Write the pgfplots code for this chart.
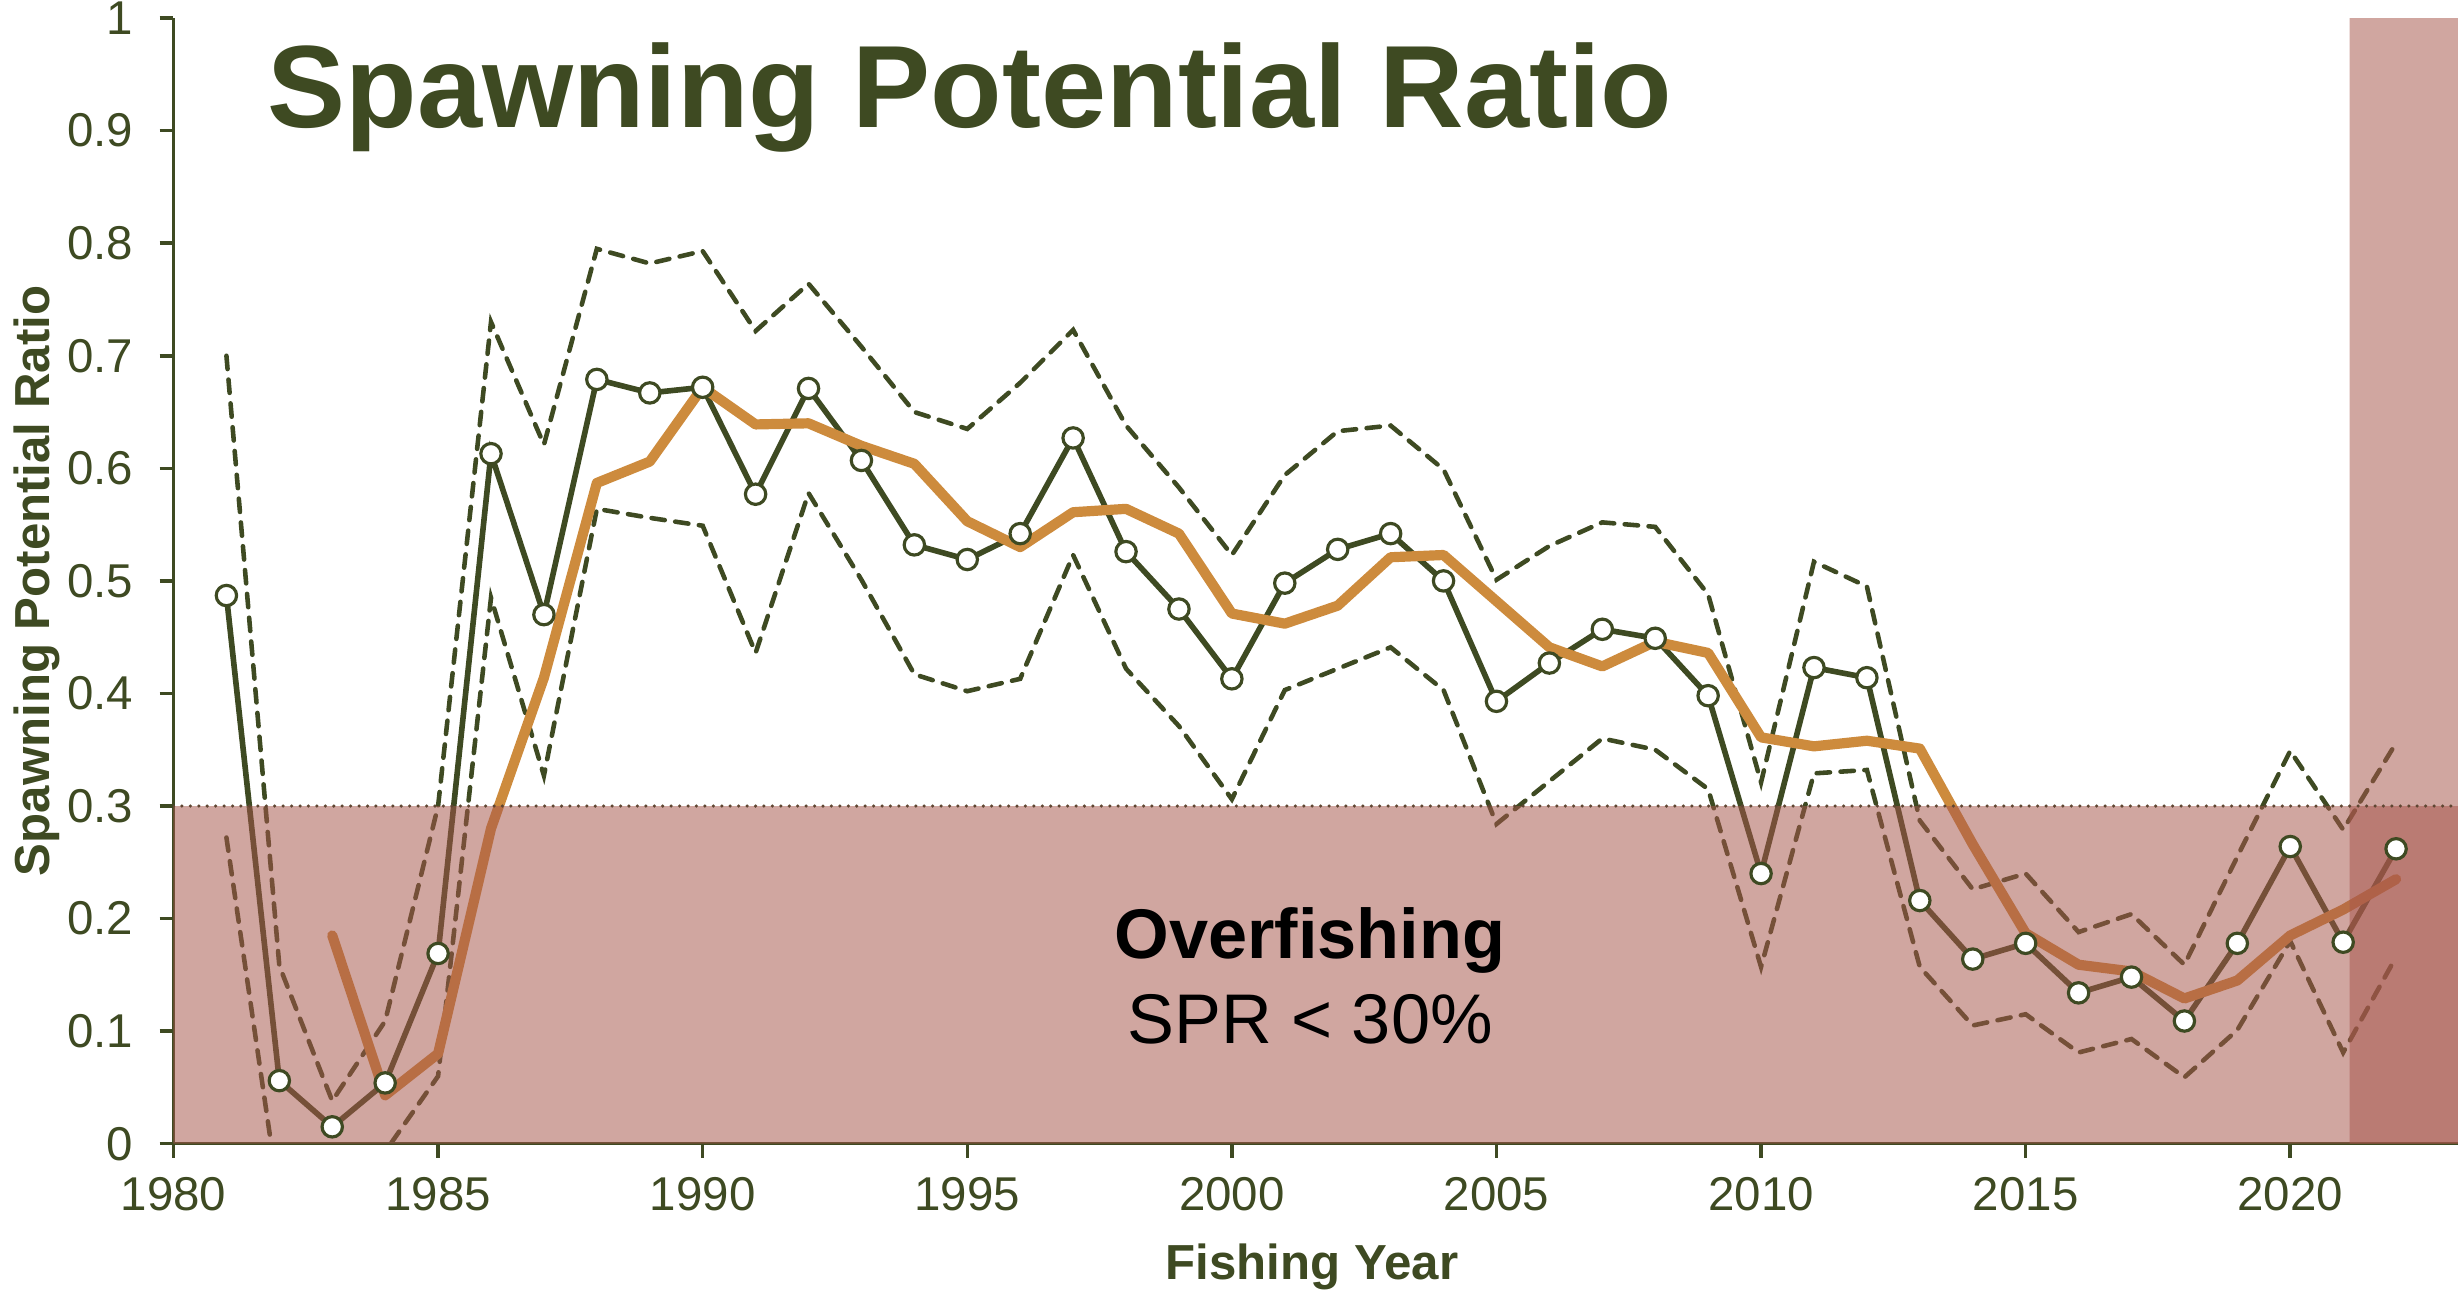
\documentclass[border=0pt]{standalone}
\usepackage{fontspec}
\setmainfont{Liberation Sans}
\usepackage{pgfplots}
\pgfplotsset{compat=1.18}
\definecolor{spolive}{RGB}{62,74,34}
\definecolor{sporange}{RGB}{205,139,61}
\definecolor{spband}{RGB}{167,86,76}
\definecolor{spdot}{RGB}{95,70,50}
\begin{document}
\begin{tikzpicture}
\useasboundingbox (0,0) rectangle (24.58,12.96);
\begin{axis}[
  at={(1.735cm,1.523cm)}, anchor=south west,
  width=22.845cm, height=11.256cm, scale only axis,
  xmin=1980, xmax=2023.17, ymin=0, ymax=1,
  axis x line*=bottom, axis y line*=left,
  axis line style={line width=1pt, spolive},
  tick align=outside, major tick length=0.14cm,
  tick style={line width=1pt, spolive},
  xtick={1980,1985,1990,1995,2000,2005,2010,2015,2020},
  xticklabels={1980,1985,1990,1995,2000,2005,2010,2015,2020},
  ytick={0,0.1,0.2,0.3,0.4,0.5,0.6,0.7,0.8,0.9,1},
  yticklabels={0,0.1,0.2,0.3,0.4,0.5,0.6,0.7,0.8,0.9,1},
  ticklabel style={font=\fontsize{13.5}{16}\selectfont, text=spolive, inner sep=0pt},
  xticklabel style={anchor=base, yshift=-0.53cm},
  yticklabel style={anchor=east, xshift=-0.255cm},
]
% upper and lower bounds
\addplot[spolive, line width=1.3pt, dash pattern=on 3.8pt off 3pt, line cap=round] coordinates {
(1981,0.700) (1982,0.158) (1983,0.038) (1984,0.109) (1985,0.300) (1986,0.730) (1987,0.621) (1988,0.795) (1989,0.782) (1990,0.793)
(1991,0.722) (1992,0.764) (1993,0.708) (1994,0.650) (1995,0.635) (1996,0.676) (1997,0.723) (1998,0.638) (1999,0.583) (2000,0.523)
(2001,0.594) (2002,0.633) (2003,0.638) (2004,0.599) (2005,0.501) (2006,0.531) (2007,0.552) (2008,0.548) (2009,0.488) (2010,0.321)
(2011,0.517) (2012,0.495) (2013,0.287) (2014,0.226) (2015,0.240) (2016,0.188) (2017,0.204) (2018,0.159) (2019,0.255) (2020,0.349)
(2021,0.279) (2022,0.356)};
\addplot[spolive, line width=1.3pt, dash pattern=on 3.8pt off 3pt, line cap=round] coordinates {
(1981,0.272) (1982,-0.050) (1983,-0.050) (1984,-0.007) (1985,0.060) (1986,0.485) (1987,0.327) (1988,0.564) (1989,0.556) (1990,0.549)
(1991,0.436) (1992,0.578) (1993,0.501) (1994,0.417) (1995,0.402) (1996,0.413) (1997,0.523) (1998,0.422) (1999,0.371) (2000,0.306)
(2001,0.403) (2002,0.422) (2003,0.441) (2004,0.403) (2005,0.284) (2006,0.322) (2007,0.360) (2008,0.350) (2009,0.315) (2010,0.157)
(2011,0.329) (2012,0.332) (2013,0.157) (2014,0.105) (2015,0.115) (2016,0.081) (2017,0.093) (2018,0.059) (2019,0.101) (2020,0.180)
(2021,0.081) (2022,0.166)};
% annual SPR
\addplot[spolive, line width=1.6pt, mark=*, mark size=2.9pt, mark options={fill=white, draw=spolive, line width=0.9pt}] coordinates {
(1981,0.487) (1982,0.056) (1983,0.015) (1984,0.054) (1985,0.169) (1986,0.613) (1987,0.470) (1988,0.679) (1989,0.667) (1990,0.672)
(1991,0.577) (1992,0.671) (1993,0.607) (1994,0.532) (1995,0.519) (1996,0.542) (1997,0.627) (1998,0.526) (1999,0.475) (2000,0.413)
(2001,0.498) (2002,0.528) (2003,0.542) (2004,0.500) (2005,0.393) (2006,0.427) (2007,0.457) (2008,0.449) (2009,0.398) (2010,0.240)
(2011,0.423) (2012,0.414) (2013,0.216) (2014,0.164) (2015,0.178) (2016,0.134) (2017,0.148) (2018,0.109) (2019,0.178) (2020,0.264)
(2021,0.179) (2022,0.262)};
% running average
\addplot[sporange, line width=2.9pt, line cap=round, line join=round] coordinates {
(1983,0.185) (1984,0.043) (1985,0.080) (1986,0.280) (1987,0.414) (1988,0.587) (1989,0.606) (1990,0.672)
(1991,0.639) (1992,0.640) (1993,0.620) (1994,0.604) (1995,0.553) (1996,0.530) (1997,0.561) (1998,0.564) (1999,0.542) (2000,0.471)
(2001,0.462) (2002,0.478) (2003,0.521) (2004,0.523) (2005,0.482) (2006,0.441) (2007,0.424) (2008,0.446) (2009,0.436) (2010,0.361)
(2011,0.353) (2012,0.358) (2013,0.351) (2014,0.266) (2015,0.187) (2016,0.159) (2017,0.153) (2018,0.129) (2019,0.145) (2020,0.185)
(2021,0.208) (2022,0.235)};
% shaded regions
\addplot[draw=none, fill=spband, fill opacity=0.53] coordinates {(1980,0) (1980,0.3) (2023.17,0.3) (2023.17,0)} \closedcycle;
\addplot[draw=none, fill=spband, fill opacity=0.53] coordinates {(2021.12,0) (2021.12,1) (2023.17,1) (2023.17,0)} \closedcycle;
\addplot[spdot, line width=1pt, dash pattern=on 0pt off 2.4pt, line cap=round] coordinates {(1980,0.3) (2023.17,0.3)};
\end{axis}
\node[anchor=base west, inner sep=0pt, text=spolive, font=\fontsize{33.3}{38}\selectfont\bfseries] at (2.67,11.68) {Spawning Potential Ratio};
\node[anchor=base, inner sep=0pt, font=\fontsize{20}{24}\selectfont\bfseries] at (13.1,3.37) {Overfishing};
\node[anchor=base, inner sep=0pt, font=\fontsize{20}{24}\selectfont] at (13.1,2.52) {SPR < 30\%};
\node[anchor=base, inner sep=0pt, text=spolive, font=\fontsize{14}{17}\selectfont\bfseries] at (13.12,0.16) {Fishing Year};
\node[anchor=base, rotate=90, inner sep=0pt, text=spolive, font=\fontsize{14}{17}\selectfont\bfseries] at (0.50,7.15) {Spawning Potential Ratio};
\end{tikzpicture}
\end{document}
